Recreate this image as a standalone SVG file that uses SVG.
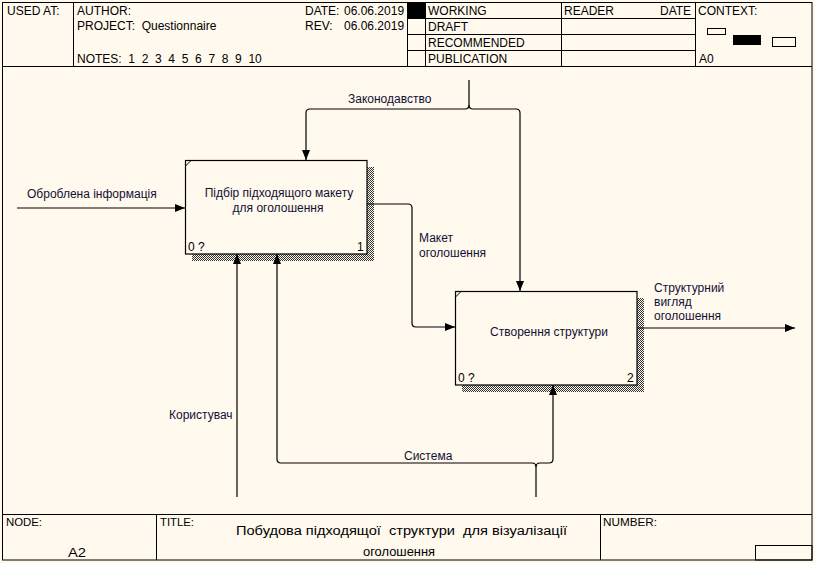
<svg xmlns="http://www.w3.org/2000/svg" width="815" height="563" viewBox="0 0 815 563">
<defs>
<pattern id="hatch" width="2" height="2" patternUnits="userSpaceOnUse">
<rect width="2" height="2" fill="#FFF9EE"/>
<rect width="1" height="1" fill="#333"/>
<rect x="1" y="1" width="1" height="1" fill="#333"/>
</pattern>
<marker id="arr" markerUnits="userSpaceOnUse" markerWidth="10" markerHeight="8" refX="10" refY="4" orient="auto">
<path d="M0,0 L10,4 L0,8 z" fill="#000"/>
</marker>
</defs>
<style>
text{font-family:"Liberation Sans",Arial,sans-serif;font-size:12px;fill:#000;white-space:pre}
.fr{fill:none;stroke:#000;stroke-width:1}
.box{fill:#FFF9EE;stroke:#000;stroke-width:1.2}
.con{fill:none;stroke:#000;stroke-width:1.2}
.lbl{fill:#111133}
.sm{font-size:11px}
.mid{text-anchor:middle}
</style>
<rect width="815" height="563" fill="#FFF9EE"/>
<g id="frame">
<rect class="fr" x="2.5" y="2.5" width="809.5" height="557.5"/>
<line class="fr" x1="2" y1="66.5" x2="812" y2="66.5"/>
<line class="fr" x1="73.5" y1="2" x2="73.5" y2="66"/>
<line class="fr" x1="407.5" y1="2" x2="407.5" y2="66"/>
<line class="fr" x1="425.5" y1="2" x2="425.5" y2="66"/>
<line class="fr" x1="561.5" y1="2" x2="561.5" y2="66"/>
<line class="fr" x1="695.5" y1="2" x2="695.5" y2="66"/>
<line class="fr" x1="407" y1="18.5" x2="695" y2="18.5"/>
<line class="fr" x1="407" y1="34.5" x2="695" y2="34.5"/>
<line class="fr" x1="407" y1="50.5" x2="695" y2="50.5"/>
<rect x="408" y="3" width="17" height="15" fill="#000"/>
<rect class="fr" x="707.5" y="28.5" width="18" height="6"/>
<rect x="733" y="35" width="28" height="10" fill="#000"/>
<rect class="fr" x="772.5" y="37.5" width="23" height="9"/>
<text x="7" y="15">USED AT:</text>
<text x="77" y="15">AUTHOR:</text>
<text x="77" y="30">PROJECT:  Questionnaire</text>
<text x="77" y="63">NOTES:  1  2  3  4  5  6  7  8  9  10</text>
<text x="305" y="15">DATE:</text>
<text x="344" y="15">06.06.2019</text>
<text x="305" y="30">REV:</text>
<text x="344" y="30">06.06.2019</text>
<text x="428" y="15">WORKING</text>
<text x="428" y="31">DRAFT</text>
<text x="428" y="47">RECOMMENDED</text>
<text x="428" y="63">PUBLICATION</text>
<text x="564" y="15">READER</text>
<text x="660" y="15">DATE</text>
<text x="698" y="15">CONTEXT:</text>
<text x="699" y="63">A0</text>
<line class="fr" x1="2" y1="514.5" x2="812" y2="514.5"/>
<line class="fr" x1="156.5" y1="514" x2="156.5" y2="560"/>
<line class="fr" x1="600.5" y1="514" x2="600.5" y2="560"/>
<rect class="fr" x="755.5" y="545.5" width="56.5" height="14.5"/>
<text class="sm" x="6" y="526" textLength="36" lengthAdjust="spacingAndGlyphs">NODE:</text>
<text class="sm" x="160" y="526" textLength="34" lengthAdjust="spacingAndGlyphs">TITLE:</text>
<text class="sm" x="603" y="526" textLength="54" lengthAdjust="spacingAndGlyphs">NUMBER:</text>
<text x="68" y="557" font-size="18" textLength="18" lengthAdjust="spacingAndGlyphs">A2</text>
<text x="236" y="535" font-size="17" textLength="331" lengthAdjust="spacingAndGlyphs">Побудова підходящої  структури  для візуалізації</text>
<text x="363" y="556" font-size="17" textLength="72" lengthAdjust="spacingAndGlyphs">оголошення</text>
</g>
<g id="node1">
<rect x="367" y="167" width="7" height="94" fill="url(#hatch)"/>
<rect x="192" y="254" width="182" height="7" fill="url(#hatch)"/>
<rect class="box" x="185.5" y="160.5" width="181.5" height="93.5"/>
<line class="fr" x1="185.5" y1="166" x2="191" y2="160.5"/>
<text class="mid lbl" x="279" y="197">Підбір підходящого макету</text>
<text class="mid lbl" x="278" y="212">для оголошення</text>
<text x="188" y="251">0 ?</text>
<text x="357" y="251">1</text>
</g>
<g id="node2">
<rect x="637" y="298" width="7" height="94" fill="url(#hatch)"/>
<rect x="462" y="385" width="182" height="7" fill="url(#hatch)"/>
<rect class="box" x="455.5" y="291.5" width="181.5" height="93.5"/>
<line class="fr" x1="455.5" y1="297" x2="461" y2="291.5"/>
<text class="mid lbl" x="549" y="336">Створення структури</text>
<text x="458" y="382">0 ?</text>
<text x="627" y="382">2</text>
</g>
<g id="connectors">
<path class="con" d="M17,208 H185" marker-end="url(#arr)"/>
<path class="con" d="M469,80 V105 Q469,109 465,109 H310 Q306,109 306,113 V160" marker-end="url(#arr)"/>
<path class="con" d="M469,105 Q469,109 473,109 H516 Q520,109 520,113 V291" marker-end="url(#arr)"/>
<path class="con" d="M367,204 H408 Q412,204 412,208 V323 Q412,327 416,327 H455" marker-end="url(#arr)"/>
<path class="con" d="M637,328 H795" marker-end="url(#arr)"/>
<path class="con" d="M237,497 V254" marker-end="url(#arr)"/>
<path class="con" d="M536,497 V467 Q536,463 532,463 H281 Q277,463 277,459 V254" marker-end="url(#arr)"/>
<path class="con" d="M536,467 Q536,463 540,463 H549 Q553,463 553,459 V385" marker-end="url(#arr)"/>
<text class="lbl" x="27" y="198">Оброблена інформація</text>
<text class="lbl" x="348" y="103">Законодавство</text>
<text class="lbl" x="419" y="242">Макет</text>
<text class="lbl" x="419" y="257">оголошення</text>
<text class="lbl" x="654" y="292">Структурний</text>
<text class="lbl" x="654" y="306">вигляд</text>
<text class="lbl" x="654" y="320">оголошення</text>
<text class="lbl" x="169" y="419">Користувач</text>
<text class="lbl" x="404" y="460">Система</text>
</g>
</svg>
